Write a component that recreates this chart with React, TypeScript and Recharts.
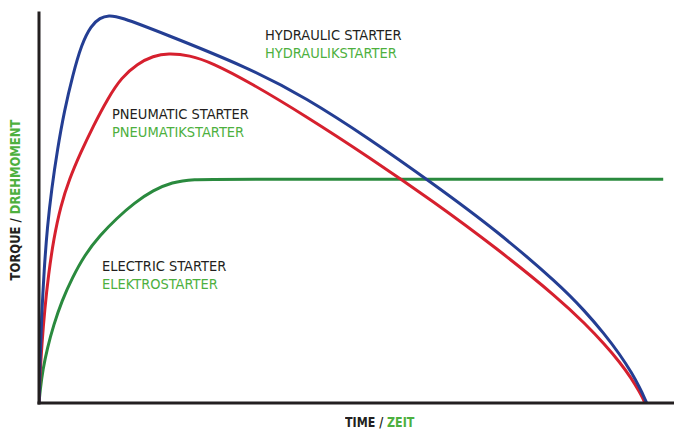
import { LineChart, Line, XAxis, YAxis } from 'recharts';

// time and torque are both in relative units (0-100)
const hydraulic = [
	{ time: 0, torque: 0 },
	{ time: 0.15, torque: 10 },
	{ time: 0.4, torque: 22 },
	{ time: 0.8, torque: 34 },
	{ time: 1.3, torque: 45 },
	{ time: 2.0, torque: 55 },
	{ time: 2.9, torque: 65 },
	{ time: 4.0, torque: 75 },
	{ time: 5.3, torque: 84 },
	{ time: 6.7, torque: 92 },
	{ time: 8.2, torque: 96.8 },
	{ time: 9.6, torque: 98.8 },
	{ time: 11.0, torque: 99.4 },
	{ time: 12.6, torque: 99.1 },
	{ time: 19.4, torque: 94.9 },
	{ time: 33.1, torque: 85.9 },
	{ time: 42.0, torque: 78.3 },
	{ time: 52.0, torque: 67.8 },
	{ time: 62.0, torque: 56.3 },
	{ time: 72.0, torque: 44.3 },
	{ time: 82.0, torque: 30.3 },
	{ time: 86.0, torque: 23.5 },
	{ time: 89.0, torque: 17.8 },
	{ time: 91.5, torque: 12.4 },
	{ time: 93.4, torque: 7.6 },
	{ time: 94.7, torque: 3.6 },
	{ time: 95.3, torque: 1.5 },
	{ time: 95.7, torque: 0 },
];

const pneumatic = [
	{ time: 0, torque: 0 },
	{ time: 0.15, torque: 7 },
	{ time: 0.45, torque: 15 },
	{ time: 0.9, torque: 24 },
	{ time: 1.5, torque: 33 },
	{ time: 2.3, torque: 42 },
	{ time: 3.4, torque: 50.5 },
	{ time: 4.8, torque: 57.5 },
	{ time: 6.5, torque: 64 },
	{ time: 8.6, torque: 71.2 },
	{ time: 10.8, torque: 78 },
	{ time: 13.0, torque: 83.5 },
	{ time: 15.5, torque: 87 },
	{ time: 18.0, torque: 89 },
	{ time: 20.3, torque: 89.7 },
	{ time: 23.7, torque: 89.2 },
	{ time: 27.3, torque: 87.2 },
	{ time: 33.1, torque: 82.3 },
	{ time: 42.0, torque: 73.6 },
	{ time: 52.0, torque: 63.0 },
	{ time: 62.0, torque: 51.8 },
	{ time: 72.0, torque: 39.8 },
	{ time: 82.0, torque: 26.6 },
	{ time: 86.0, torque: 20.3 },
	{ time: 89.0, torque: 15.2 },
	{ time: 91.5, torque: 10.4 },
	{ time: 93.3, torque: 6.3 },
	{ time: 94.5, torque: 3.0 },
	{ time: 95.1, torque: 1.2 },
	{ time: 95.4, torque: 0 },
];

const electric = [
	{ time: 0, torque: 0 },
	{ time: 0.2, torque: 3.5 },
	{ time: 0.6, torque: 8.5 },
	{ time: 1.3, torque: 14 },
	{ time: 2.3, torque: 20 },
	{ time: 3.6, torque: 26.2 },
	{ time: 5.2, torque: 32 },
	{ time: 7.2, torque: 38 },
	{ time: 9.6, torque: 43 },
	{ time: 12.2, torque: 47.3 },
	{ time: 15.0, torque: 51.3 },
	{ time: 18.0, torque: 54.6 },
	{ time: 21.0, torque: 56.6 },
	{ time: 24.0, torque: 57.4 },
	{ time: 30.0, torque: 57.4 },
	{ time: 98.3, torque: 57.4 },
];

const DARK = '#231f20';
const LABEL_GREEN = '#4db03e';
const FONT = "'DejaVu Sans Condensed', 'Roboto', sans-serif";

const axisLine = { stroke: DARK, strokeWidth: 3, strokeLinecap: 'square' as const };

function CurveLabel({ x, y, en, de }: { x: number; y: number; en: string; de: string }) {
	return (
		<div style={{ position: 'absolute', left: x, top: y, fontFamily: FONT, fontSize: 14.5, lineHeight: '18px', whiteSpace: 'nowrap' }}>
			<div style={{ color: DARK }}>{en}</div>
			<div style={{ color: LABEL_GREEN }}>{de}</div>
		</div>
	);
}

export default function App() {
	return (
		<div style={{ position: 'relative', width: 674, height: 430, background: '#fff', overflow: 'hidden' }}>
			<style>{'body { margin: 0; }'}</style>
			<LineChart width={674} height={430} margin={{ top: 13, right: 0, bottom: 0, left: 0 }}>
				<XAxis
					type="number"
					dataKey="time"
					domain={[0, 100]}
					tick={false}
					tickLine={false}
					axisLine={axisLine}
					height={27}
					allowDataOverflow
				/>
				<YAxis
					type="number"
					domain={[0, 100]}
					tick={false}
					tickLine={false}
					axisLine={axisLine}
					width={39}
					allowDataOverflow
				/>
				<Line data={electric} dataKey="torque" type="basis" stroke="#2a8a3e" strokeWidth={3} dot={false} isAnimationActive={false} />
				<Line data={pneumatic} dataKey="torque" type="basis" stroke="#d6202e" strokeWidth={3} dot={false} isAnimationActive={false} />
				<Line data={hydraulic} dataKey="torque" type="basis" stroke="#243e93" strokeWidth={3} dot={false} isAnimationActive={false} />
			</LineChart>

			<CurveLabel x={265} y={26} en="HYDRAULIC STARTER" de="HYDRAULIKSTARTER" />
			<CurveLabel x={112} y={105} en="PNEUMATIC STARTER" de="PNEUMATIKSTARTER" />
			<CurveLabel x={102} y={257} en="ELECTRIC STARTER" de="ELEKTROSTARTER" />

			<div
				style={{
					position: 'absolute',
					left: 345,
					top: 413,
					fontFamily: FONT,
					fontSize: 14,
					fontWeight: 'bold',
					whiteSpace: 'nowrap',
					lineHeight: '18px',
					transform: 'scaleX(0.88)',
					transformOrigin: 'left center',
				}}
			>
				<span style={{ color: DARK }}>TIME / </span>
				<span style={{ color: LABEL_GREEN }}>ZEIT</span>
			</div>
			<div
				style={{
					position: 'absolute',
					left: 15,
					top: 200,
					transform: 'translate(-50%, -50%) rotate(-90deg) scaleX(0.92)',
					fontFamily: FONT,
					fontSize: 14,
					fontWeight: 'bold',
					whiteSpace: 'nowrap',
					lineHeight: '18px',
				}}
			>
				<span style={{ color: DARK }}>TORQUE / </span>
				<span style={{ color: LABEL_GREEN }}>DREHMOMENT</span>
			</div>
		</div>
	);
}
